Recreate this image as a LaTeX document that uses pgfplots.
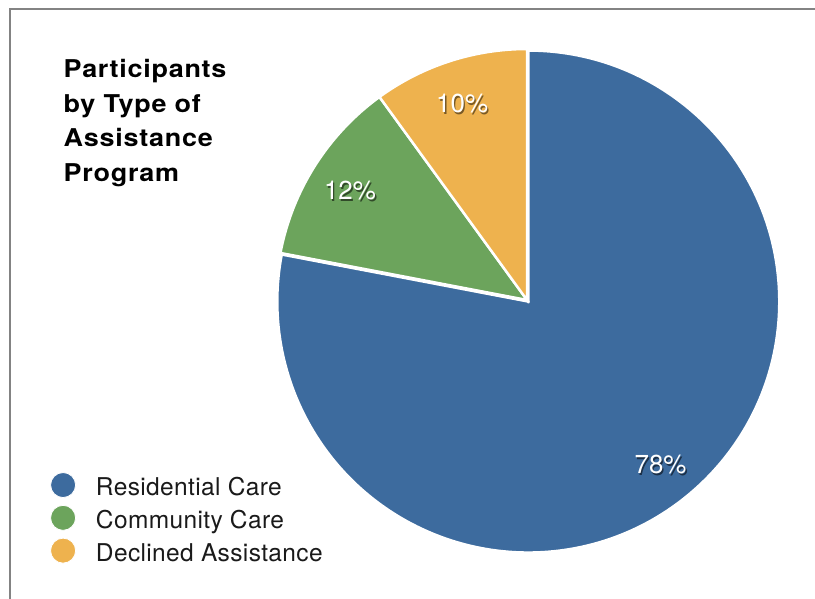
\documentclass[border=0pt]{standalone}
\usepackage{pgfplots}
\pgfplotsset{compat=1.18}
\usepackage{pgfplotstable}
\usepackage{fontspec}
\setmainfont{TeX Gyre Heros}
\definecolor{cblue}{HTML}{3D6B9E}
\definecolor{cgreen}{HTML}{6CA45C}
\definecolor{corange}{HTML}{EEB24E}
\definecolor{cframe}{HTML}{838383}
\definecolor{ctext}{HTML}{1A1A1A}

\pgfplotsset{pieleg/.style={legend image code/.code={\draw[##1, draw=white, line width=0.8pt] (12.5pt,0pt) circle[radius=12.5pt];}}}

\newcommand\shadowed[2]{\rlap{\hspace{1.3pt}\raisebox{-1.8pt}[0pt][0pt]{\color{#1}#2}}\color{white}#2}

\pgfplotstableread{
label value
Residential 78
Community 12
Declined 10
}\piedata

\begin{document}
\begin{tikzpicture}[x=1pt,y=1pt]
\pgfplotstablegetelem{0}{value}\of\piedata \edef\vA{\pgfplotsretval}
\pgfplotstablegetelem{1}{value}\of\piedata \edef\vB{\pgfplotsretval}
\pgfplotstablegetelem{2}{value}\of\piedata \edef\vC{\pgfplotsretval}
\pgfmathsetmacro\aA{90}
\pgfmathsetmacro\aB{\aA-3.6*\vA}
\pgfmathsetmacro\aC{\aB-3.6*\vB}
\pgfmathsetmacro\aD{\aC-3.6*\vC}
\pgfmathsetmacro\mA{(\aA+\aB)/2}
\pgfmathsetmacro\mB{(\aB+\aC)/2}
\pgfmathsetmacro\mC{(\aC+\aD)/2}
\pgfmathsetmacro\eAx{0.008*cos(\mA)}
\pgfmathsetmacro\eAy{0.008*sin(\mA)}

\fill[white] (0,0) rectangle (815,-599);
\path[use as bounding box] (0,0) rectangle (815,-599);
\draw[cframe, line width=2pt] (10,-600) -- (10,-9) -- (816,-9);

% title
\begin{scope}[every node/.style={anchor=base west, inner sep=0pt, text=black,
  font=\fontsize{24.5}{28}\selectfont\bfseries\addfontfeatures{FakeStretch=1.1,LetterSpace=3}}]
\node at (63.5,-78) {Participants};
\node at (63.5,-112.5) {by Type of};
\node at (63.5,-147) {Assistance};
\node at (63.5,-181.5) {Program};
\end{scope}

\begin{axis}[at={(527pt,-300pt)}, anchor=origin, x=251pt, y=251pt,
  xmin=-1.05, xmax=1.05, ymin=-1.05, ymax=1.05,
  hide axis, clip=false,
  legend cell align=left,
  legend style={at={(axis cs:-1.9004,-0.685)}, anchor=north west,
    draw=none, fill=none, inner sep=0pt, row sep=7pt,
    font=\fontsize{24.5}{28}\selectfont\addfontfeatures{LetterSpace=1.5},
    text=ctext,
    nodes={inner sep=0pt, text height=21pt, text depth=0pt},
    /tikz/every odd column/.append style={column sep=20pt}},
]
\addlegendimage{fill=cblue, pieleg}
\addlegendentry{Residential Care}
\addlegendimage{fill=cgreen, pieleg}
\addlegendentry{Community Care}
\addlegendimage{fill=corange, pieleg}
\addlegendentry{Declined Assistance}

\fill[cblue, draw=white, line width=2.5pt, line join=miter]
  (axis cs:\eAx,\eAy) -- ++(\aA:251pt) arc[start angle=\aA, end angle=\aB, radius=251pt] -- cycle;
\fill[cgreen, draw=white, line width=2.5pt, line join=miter]
  (axis cs:0,0) -- ++(\aB:251pt) arc[start angle=\aB, end angle=\aC, radius=251pt] -- cycle;
\fill[corange, draw=white, line width=2.5pt, line join=miter]
  (axis cs:0,0) -- ++(\aC:251pt) arc[start angle=\aC, end angle=\aD, radius=251pt] -- cycle;

\begin{scope}[every node/.style={font=\fontsize{26}{30}\selectfont, inner sep=0pt, yshift=-3pt}]
\node at (axis cs:{0.835*cos(\mA)},{0.835*sin(\mA)}) {\shadowed{cblue!45!black}{\vA\%}};
\node at (axis cs:{0.835*cos(\mB)},{0.835*sin(\mB)}) {\shadowed{cgreen!45!black}{\vB\%}};
\node at (axis cs:{0.835*cos(\mC)},{0.835*sin(\mC)}) {\shadowed{corange!50!black}{\vC\%}};
\end{scope}
\end{axis}
\end{tikzpicture}
\end{document}
